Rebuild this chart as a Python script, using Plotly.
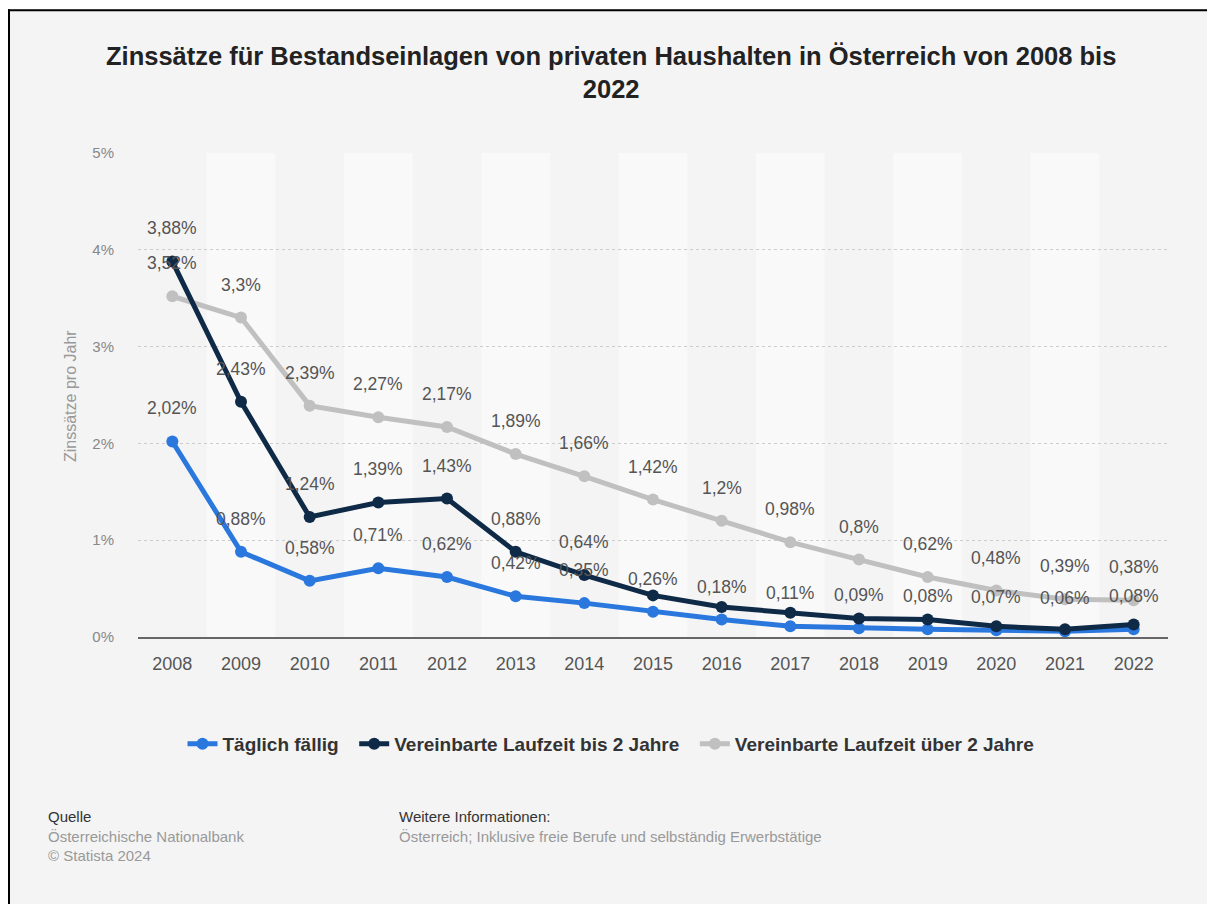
import plotly.graph_objects as go

years = [str(y) for y in range(2008, 2023)]
taeglich = [2.02, 0.88, 0.58, 0.71, 0.62, 0.42, 0.35, 0.26, 0.18, 0.11, 0.09, 0.08, 0.07, 0.06, 0.08]
bis2 = [3.88, 2.43, 1.24, 1.39, 1.43, 0.88, 0.64, 0.43, 0.31, 0.25, 0.19, 0.18, 0.11, 0.08, 0.13]
ueber2 = [3.52, 3.3, 2.39, 2.27, 2.17, 1.89, 1.66, 1.42, 1.2, 0.98, 0.8, 0.62, 0.48, 0.39, 0.38]
# which points of the "bis 2 Jahre" series carry a visible label in the original
bis2_labeled = [True] * 7 + [False] * 8
y_ticks = [0, 1, 2, 3, 4, 5]
y_tick_labels = ["0%", "1%", "2%", "3%", "4%", "5%"]

names = ["Täglich fällig", "Vereinbarte Laufzeit bis 2 Jahre", "Vereinbarte Laufzeit über 2 Jahre"]
colors = ["#2a78de", "#0e2a47", "#c0c0c0"]

# the page body has an 8px margin, so the figure starts at (8, 8) of the window
OX, OY = 8, 8
W, H = 1215 - OX, 904 - OY
PL, PR, PT, PB = 138, 1168, 153, 637  # plot area in window coordinates
L, R, T, B = PL - OX, 1215 - PR, PT - OY, 904 - PB
pw, ph = PR - PL, PB - PT


def fmt(v):
    return f"{v:g}".replace(".", ",") + "%"


def px(x):
    return (x - PL) / pw


def py(y):
    return (PB - y) / ph


FONT = "Liberation Sans, Arial, sans-serif"
PAD = "\u00a0\u00a0"

fig = go.Figure()

# draw order: grey, blue, navy (navy on top)
order = [2, 0, 1]
series = [taeglich, bis2, ueber2]
for i in order:
    fig.add_trace(go.Scatter(
        x=years, y=series[i], name=names[i] + (PAD if i < 2 else ""), mode="lines+markers",
        line=dict(color=colors[i], width=5),
        marker=dict(color=colors[i], size=12),
        legendrank=i + 1,
        hovertemplate="%{x}: %{y}<extra>" + names[i] + "</extra>",
    ))

annotations = []
for i in order:
    for j, v in enumerate(series[i]):
        if i == 1 and not bis2_labeled[j]:
            continue
        annotations.append(dict(
            x=j, y=v, xref="x", yref="y", text=fmt(v), showarrow=False,
            yshift=33, font=dict(family=FONT, size=17.5, color="#555555"),
        ))

# alternating column bands
shapes = []
for j in range(len(years)):
    if j % 2 == 1:
        shapes.append(dict(type="rect", xref="x", yref="paper", x0=j - 0.5, x1=j + 0.5,
                           y0=0, y1=1, fillcolor="#f9f9f9", line=dict(width=0), layer="below"))
# white strip above the frame, then frame lines (left and top)
shapes.append(dict(type="rect", xref="paper", yref="paper", x0=px(0), x1=px(1300), y0=py(0), y1=py(9.3),
                   fillcolor="#ffffff", line=dict(width=0)))
shapes.append(dict(type="line", xref="paper", yref="paper", x0=px(9), x1=px(9), y0=py(9.3), y1=py(910),
                   line=dict(color="#000000", width=2)))
shapes.append(dict(type="line", xref="paper", yref="paper", x0=px(8), x1=px(1300), y0=py(10.3), y1=py(10.3),
                   line=dict(color="#000000", width=2)))

footer = [
    (46, 817, "Quelle", "#333333"),
    (46, 836, "Österreichische Nationalbank", "#999999"),
    (46, 855, "© Statista 2024", "#999999"),
    (397, 817, "Weitere Informationen:", "#333333"),
    (397, 836, "Österreich; Inklusive freie Berufe und selbständig Erwerbstätige", "#999999"),
]
for x, y, t, c in footer:
    annotations.append(dict(x=px(x), y=py(y), xref="paper", yref="paper", text=t, showarrow=False,
                            xanchor="left", yanchor="middle", font=dict(family=FONT, size=15, color=c)))

annotations.append(dict(x=px(70), y=py(396), xref="paper", yref="paper", text="Zinssätze pro Jahr",
                        showarrow=False, textangle=-90, xanchor="center", yanchor="middle",
                        font=dict(family=FONT, size=16, color="#999999")))

annotations.append(dict(x=px(611), y=py(72.5), xref="paper", yref="paper",
                        text="<b>Zinssätze für Bestandseinlagen von privaten Haushalten in Österreich von 2008 bis<br>2022</b>",
                        showarrow=False, xanchor="center", yanchor="middle", align="center",
                        font=dict(family=FONT, size=25.5, color="#222222")))

fig.update_layout(
    width=W, height=H,
    margin=dict(l=L, r=R, t=T, b=B, autoexpand=False),
    paper_bgcolor="#f4f4f4", plot_bgcolor="#f4f4f4",
    showlegend=True,
    legend=dict(orientation="h", x=px(611), y=py(744), xanchor="center", yanchor="middle",
                font=dict(family=FONT, size=19, color="#333333", weight="bold"),
                bgcolor="rgba(0,0,0,0)", traceorder="normal", itemwidth=30),
    xaxis=dict(type="category", range=[-0.5, len(years) - 0.5], showgrid=False, zeroline=False,
               showline=True, linecolor="#666666", linewidth=2, ticks="",
               tickfont=dict(family=FONT, size=18, color="#555555"), ticklabelstandoff=9),
    yaxis=dict(range=[0, 5], tickvals=y_ticks, ticktext=y_tick_labels, showgrid=True,
               gridcolor="#cccccc", griddash="dot", gridwidth=1, zeroline=False, showline=False,
               tickfont=dict(family=FONT, size=15, color="#888888"), ticklabelstandoff=23),
    annotations=annotations,
    shapes=shapes,
    hovermode="closest",
)

fig.write_html("out.html")
